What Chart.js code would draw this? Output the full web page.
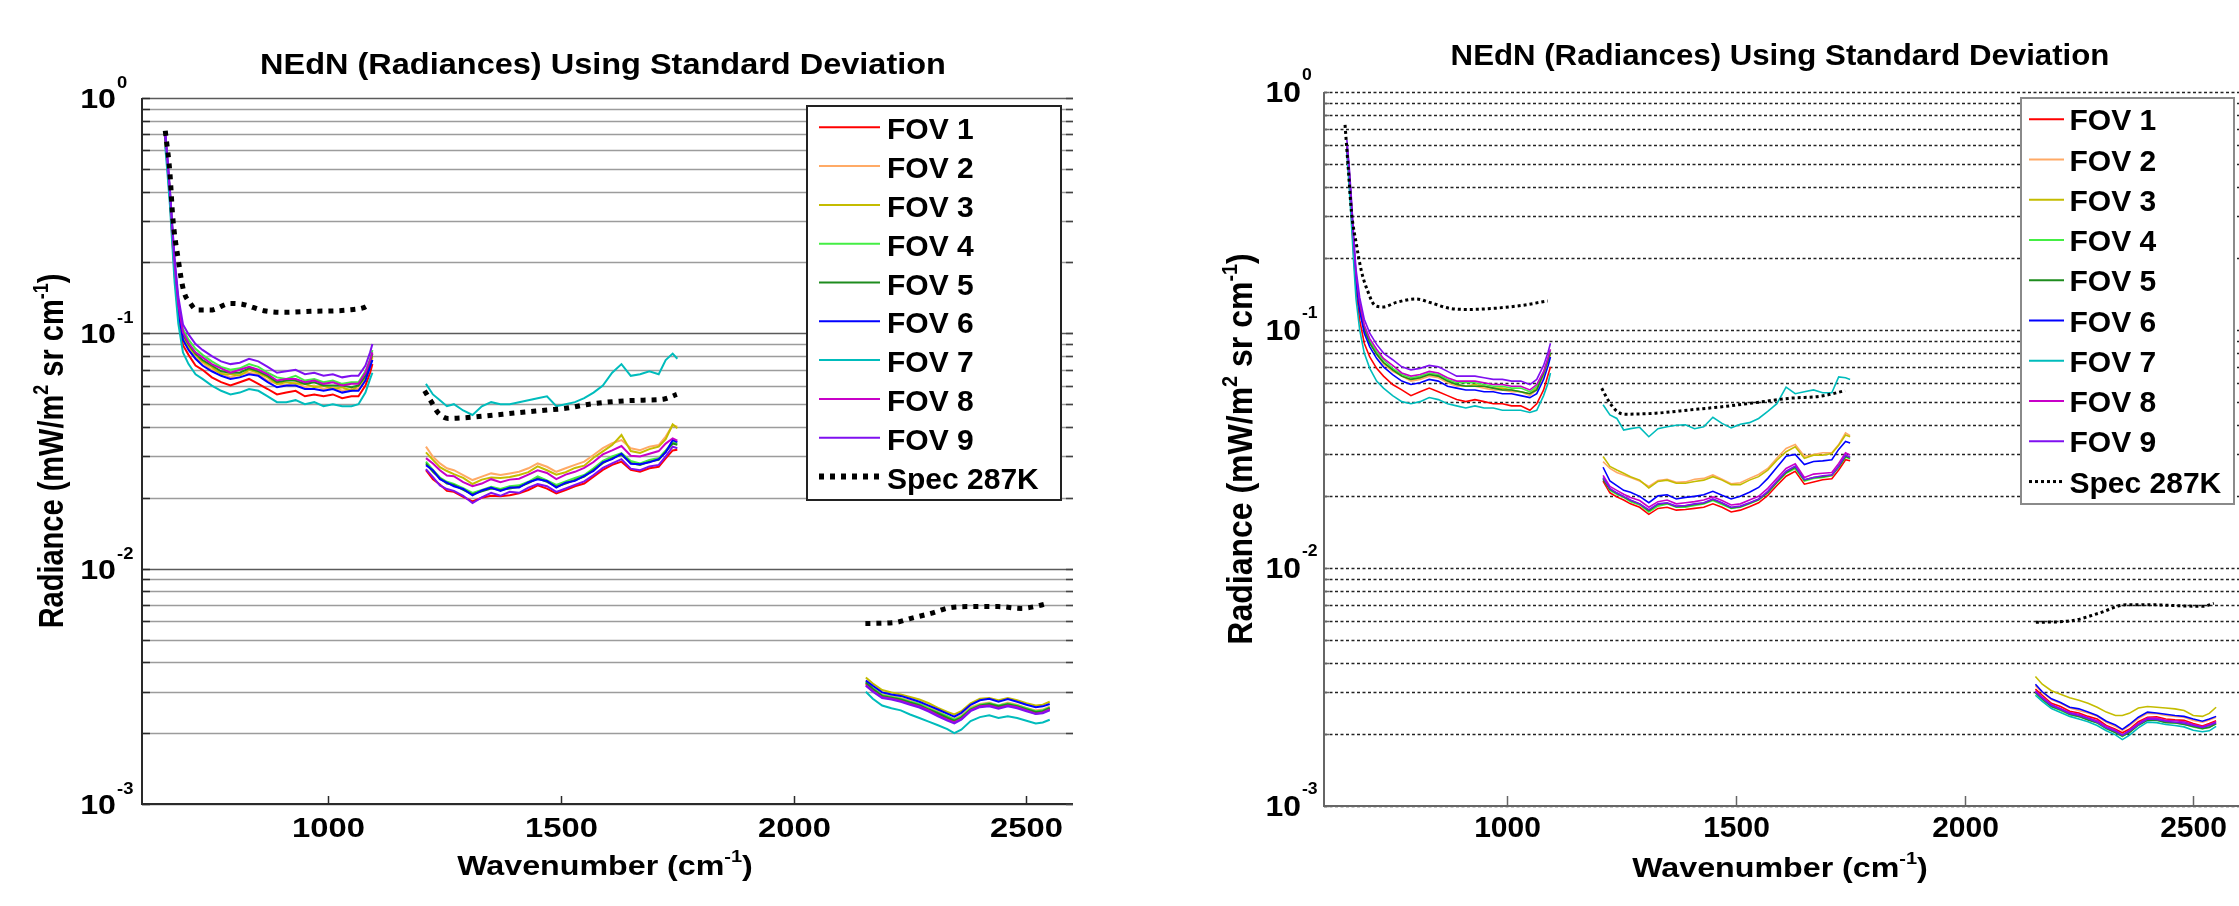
<!DOCTYPE html>
<html>
<head>
<meta charset="utf-8">
<script src="https://cdn.jsdelivr.net/npm/chart.js@4.4.1/dist/chart.umd.min.js"></script>
<style>
  html, body { margin: 0; padding: 0; background: #fff; overflow: hidden; }
  canvas { position: absolute; left: 0; top: 0; }
</style>
</head>
<body>
<canvas id="left" width="2239" height="906"></canvas>
<canvas id="right" width="2239" height="906"></canvas>
<script>
// wavenumber grids of the three bands (cm-1)
const band1 = [650, 655, 660, 665, 670, 678, 688, 700, 715, 730, 750, 770, 790, 810, 830, 850, 870, 890, 910, 930, 950, 970, 990, 1010, 1030, 1050, 1065, 1080, 1090, 1095];
const band2 = [1210, 1225, 1240, 1255, 1270, 1290, 1310, 1330, 1350, 1370, 1390, 1410, 1430, 1450, 1470, 1490, 1510, 1530, 1550, 1570, 1590, 1610, 1630, 1650, 1670, 1690, 1710, 1725, 1740, 1750];
const band3 = [2155, 2170, 2190, 2210, 2230, 2250, 2270, 2290, 2310, 2330, 2345, 2360, 2380, 2400, 2420, 2440, 2460, 2480, 2500, 2520, 2535, 2550];
const gapX = [1150, 1950];

const fovLabels = ['FOV 1', 'FOV 2', 'FOV 3', 'FOV 4', 'FOV 5', 'FOV 6', 'FOV 7', 'FOV 8', 'FOV 9'];
const specLabel = 'Spec 287K';
const fovColors = ['#ff0000', '#ffaa66', '#c4bc00', '#44ee44', '#1e8c1e', '#0000ff', '#00bcbc', '#c800c8', '#7f10f0'];

const chartTitle = 'NEdN (Radiances) Using Standard Deviation';
const yGridValues = [0.001, 0.002, 0.003, 0.004, 0.005, 0.006, 0.007, 0.008, 0.009,
  0.01, 0.02, 0.03, 0.04, 0.05, 0.06, 0.07, 0.08, 0.09,
  0.1, 0.2, 0.3, 0.4, 0.5, 0.6, 0.7, 0.8, 0.9, 1];
const yLabelValues = [1, 0.1, 0.01, 0.001];
const yLabelExps = ['0', '-1', '-2', '-3'];
const xTickValues = [1000, 1500, 2000, 2500];

// ---- left panel (values per band, null = gap between bands)
const leftFov1 = [0.66, 0.50, 0.37, 0.255, 0.178, 0.118, 0.089, 0.081, 0.073, 0.070, 0.065, 0.062, 0.060, 0.062, 0.064, 0.061, 0.058, 0.055, 0.056, 0.057, 0.054, 0.055, 0.054, 0.055, 0.053, 0.054, 0.054, 0.060, 0.068, 0.074, null,
  0.0262, 0.0240, 0.0228, 0.0214, 0.0212, 0.0202, 0.0193, 0.0200, 0.0204, 0.0203, 0.0205, 0.0209, 0.0216, 0.0226, 0.0219, 0.0209, 0.0216, 0.0224, 0.0230, 0.0246, 0.0263, 0.0276, 0.0285, 0.0263, 0.0258, 0.0267, 0.0271, 0.0294, 0.0318, 0.0320, null,
  0.00325, 0.00305, 0.00288, 0.00280, 0.00278, 0.00268, 0.00262, 0.00250, 0.00240, 0.00232, 0.00222, 0.00230, 0.00250, 0.00260, 0.00265, 0.00258, 0.00262, 0.00258, 0.00250, 0.00244, 0.00246, 0.00254];
const leftFov2 = [0.69, 0.52, 0.385, 0.268, 0.188, 0.126, 0.096, 0.087, 0.079, 0.075, 0.070, 0.068, 0.065, 0.067, 0.068, 0.067, 0.063, 0.061, 0.060, 0.062, 0.059, 0.060, 0.058, 0.059, 0.057, 0.058, 0.058, 0.064, 0.073, 0.079, null,
  0.0330, 0.0299, 0.0280, 0.0267, 0.0262, 0.0250, 0.0238, 0.0246, 0.0254, 0.0250, 0.0254, 0.0258, 0.0267, 0.0280, 0.0271, 0.0258, 0.0267, 0.0276, 0.0285, 0.0304, 0.0325, 0.0341, 0.0352, 0.0325, 0.0319, 0.0330, 0.0335, 0.0364, 0.0407, 0.0401, null,
  0.00335, 0.00312, 0.00292, 0.00288, 0.00282, 0.00275, 0.00266, 0.00258, 0.00248, 0.00236, 0.00230, 0.00238, 0.00258, 0.00266, 0.00270, 0.00262, 0.00270, 0.00264, 0.00256, 0.00250, 0.00252, 0.00260];
const leftFov3 = [0.70, 0.53, 0.39, 0.272, 0.19, 0.129, 0.098, 0.088, 0.081, 0.076, 0.072, 0.067, 0.067, 0.066, 0.070, 0.068, 0.065, 0.061, 0.062, 0.061, 0.061, 0.059, 0.060, 0.058, 0.059, 0.057, 0.060, 0.065, 0.075, 0.080, null,
  0.0312, 0.0290, 0.0270, 0.0260, 0.0252, 0.0243, 0.0229, 0.0239, 0.0244, 0.0243, 0.0245, 0.0250, 0.0257, 0.0272, 0.0262, 0.0251, 0.0257, 0.0268, 0.0274, 0.0296, 0.0315, 0.0335, 0.0370, 0.0316, 0.0310, 0.0322, 0.0330, 0.0355, 0.0410, 0.0395, null,
  0.00345, 0.00325, 0.00305, 0.00298, 0.00292, 0.00285, 0.00278, 0.00268, 0.00256, 0.00246, 0.00240, 0.00248, 0.00268, 0.00280, 0.00282, 0.00276, 0.00282, 0.00276, 0.00268, 0.00262, 0.00264, 0.00272];
const leftFov4 = [0.64, 0.53, 0.40, 0.285, 0.20, 0.137, 0.104, 0.094, 0.086, 0.081, 0.076, 0.072, 0.070, 0.071, 0.074, 0.072, 0.068, 0.065, 0.064, 0.066, 0.063, 0.064, 0.062, 0.063, 0.061, 0.062, 0.062, 0.069, 0.078, 0.085, null,
  0.0285, 0.0263, 0.0244, 0.0234, 0.0229, 0.0220, 0.0210, 0.0216, 0.0223, 0.0218, 0.0224, 0.0226, 0.0234, 0.0247, 0.0237, 0.0227, 0.0235, 0.0243, 0.0250, 0.0267, 0.0287, 0.0300, 0.0310, 0.0287, 0.0280, 0.0290, 0.0295, 0.0318, 0.0345, 0.0340, null,
  0.00330, 0.00310, 0.00290, 0.00285, 0.00280, 0.00272, 0.00266, 0.00255, 0.00245, 0.00236, 0.00228, 0.00235, 0.00254, 0.00264, 0.00268, 0.00262, 0.00267, 0.00262, 0.00255, 0.00248, 0.00250, 0.00257];
const leftFov5 = [0.68, 0.52, 0.395, 0.275, 0.193, 0.131, 0.099, 0.090, 0.082, 0.077, 0.073, 0.069, 0.068, 0.068, 0.071, 0.069, 0.066, 0.062, 0.063, 0.063, 0.061, 0.062, 0.060, 0.060, 0.060, 0.059, 0.060, 0.066, 0.076, 0.082, null,
  0.0280, 0.0258, 0.0242, 0.0230, 0.0227, 0.0216, 0.0207, 0.0213, 0.0219, 0.0216, 0.0219, 0.0223, 0.0231, 0.0242, 0.0234, 0.0223, 0.0230, 0.0238, 0.0246, 0.0263, 0.0281, 0.0295, 0.0305, 0.0281, 0.0276, 0.0285, 0.0290, 0.0314, 0.0340, 0.0336, null,
  0.00328, 0.00308, 0.00288, 0.00283, 0.00278, 0.00270, 0.00263, 0.00252, 0.00243, 0.00233, 0.00226, 0.00233, 0.00252, 0.00262, 0.00266, 0.00260, 0.00265, 0.00260, 0.00253, 0.00246, 0.00248, 0.00256];
const leftFov6 = [0.69, 0.51, 0.38, 0.262, 0.184, 0.124, 0.094, 0.085, 0.078, 0.073, 0.069, 0.066, 0.064, 0.065, 0.067, 0.066, 0.062, 0.059, 0.060, 0.060, 0.058, 0.058, 0.057, 0.058, 0.056, 0.057, 0.057, 0.063, 0.072, 0.077, null,
  0.0275, 0.0262, 0.0240, 0.0232, 0.0224, 0.0218, 0.0205, 0.0215, 0.0221, 0.0214, 0.0221, 0.0221, 0.0233, 0.0240, 0.0236, 0.0221, 0.0232, 0.0236, 0.0248, 0.0260, 0.0283, 0.0292, 0.0308, 0.0279, 0.0278, 0.0283, 0.0292, 0.0312, 0.0352, 0.0345, null,
  0.00335, 0.00318, 0.00298, 0.00292, 0.00288, 0.00280, 0.00272, 0.00262, 0.00252, 0.00242, 0.00235, 0.00244, 0.00264, 0.00276, 0.00280, 0.00272, 0.00279, 0.00272, 0.00264, 0.00258, 0.00260, 0.00266];
const leftFov7 = [0.62, 0.47, 0.35, 0.24, 0.165, 0.110, 0.083, 0.074, 0.067, 0.064, 0.060, 0.057, 0.055, 0.056, 0.058, 0.057, 0.054, 0.051, 0.051, 0.052, 0.050, 0.051, 0.049, 0.050, 0.049, 0.049, 0.050, 0.056, 0.064, 0.068, null,
  0.061, 0.055, 0.052, 0.049, 0.050, 0.047, 0.045, 0.049, 0.051, 0.050, 0.050, 0.051, 0.052, 0.053, 0.054, 0.049, 0.050, 0.051, 0.053, 0.056, 0.060, 0.068, 0.074, 0.066, 0.067, 0.069, 0.067, 0.077, 0.082, 0.078, null,
  0.00300, 0.00280, 0.00262, 0.00255, 0.00250, 0.00240, 0.00232, 0.00224, 0.00216, 0.00208, 0.00200, 0.00207, 0.00225, 0.00234, 0.00238, 0.00232, 0.00236, 0.00232, 0.00226, 0.00220, 0.00222, 0.00228];
const leftFov8 = [0.70, 0.53, 0.40, 0.28, 0.197, 0.133, 0.101, 0.091, 0.083, 0.079, 0.074, 0.071, 0.068, 0.070, 0.072, 0.070, 0.067, 0.063, 0.064, 0.064, 0.062, 0.063, 0.061, 0.062, 0.060, 0.061, 0.061, 0.068, 0.077, 0.083, null,
  0.0295, 0.0280, 0.0262, 0.0249, 0.0247, 0.0233, 0.0224, 0.0230, 0.0240, 0.0233, 0.0239, 0.0241, 0.0251, 0.0262, 0.0255, 0.0240, 0.0251, 0.0258, 0.0268, 0.0284, 0.0306, 0.0318, 0.0332, 0.0302, 0.0300, 0.0308, 0.0316, 0.0340, 0.0358, 0.0350, null,
  0.00320, 0.00302, 0.00284, 0.00280, 0.00274, 0.00266, 0.00260, 0.00250, 0.00238, 0.00228, 0.00222, 0.00230, 0.00250, 0.00260, 0.00262, 0.00256, 0.00262, 0.00258, 0.00250, 0.00242, 0.00245, 0.00252];
const leftFov9 = [0.72, 0.55, 0.41, 0.29, 0.21, 0.143, 0.109, 0.099, 0.090, 0.085, 0.080, 0.076, 0.074, 0.075, 0.078, 0.076, 0.072, 0.068, 0.069, 0.070, 0.067, 0.068, 0.066, 0.067, 0.065, 0.066, 0.066, 0.073, 0.083, 0.090, null,
  0.0265, 0.0245, 0.0226, 0.0218, 0.0214, 0.0204, 0.0190, 0.0201, 0.0210, 0.0204, 0.0212, 0.0210, 0.0221, 0.0229, 0.0224, 0.0212, 0.0219, 0.0227, 0.0235, 0.0250, 0.0268, 0.0280, 0.0292, 0.0266, 0.0262, 0.0272, 0.0276, 0.0300, 0.0330, 0.0325, null,
  0.00318, 0.00300, 0.00282, 0.00278, 0.00272, 0.00264, 0.00257, 0.00247, 0.00236, 0.00226, 0.00220, 0.00228, 0.00248, 0.00258, 0.00260, 0.00254, 0.00260, 0.00255, 0.00248, 0.00241, 0.00243, 0.00250];
const leftSpecX = [650, 660, 666, 678, 689, 704, 718, 747, 790, 815, 862, 905, 963, 1042, 1078, 1092, 1150,
  1207, 1222, 1236, 1258, 1308, 1359, 1409, 1460, 1510, 1561, 1626, 1677, 1720, 1749, 1950,
  2154, 2216, 2252, 2295, 2338, 2381, 2439, 2489, 2518, 2540];
const leftSpecY = [0.726, 0.48, 0.313, 0.205, 0.153, 0.134, 0.1256, 0.1256, 0.134, 0.133, 0.1248, 0.1228, 0.124, 0.1256, 0.129, 0.134, null,
  0.057, 0.051, 0.046, 0.0435, 0.044, 0.045, 0.046, 0.047, 0.048, 0.050, 0.0515, 0.052, 0.0525, 0.055, null,
  0.00585, 0.0059, 0.00615, 0.00646, 0.00684, 0.0069, 0.0069, 0.00678, 0.0069, 0.00707];

// ---- right panel
const rightFov1 = [0.58, 0.43, 0.30, 0.205, 0.148, 0.110, 0.088, 0.077, 0.069, 0.064, 0.059, 0.056, 0.053, 0.055, 0.057, 0.055, 0.053, 0.051, 0.050, 0.051, 0.050, 0.049, 0.049, 0.048, 0.048, 0.046, 0.049, 0.056, 0.065, 0.070, null,
  0.0232, 0.0207, 0.0199, 0.0193, 0.0186, 0.0180, 0.0168, 0.0178, 0.0180, 0.0175, 0.0176, 0.0178, 0.0180, 0.0186, 0.0180, 0.0172, 0.0175, 0.0181, 0.0188, 0.0202, 0.0222, 0.0243, 0.0255, 0.0225, 0.0230, 0.0235, 0.0237, 0.0258, 0.0285, 0.0282, null,
  0.00310, 0.00292, 0.00270, 0.00262, 0.00250, 0.00246, 0.00238, 0.00232, 0.00218, 0.00210, 0.00203, 0.00210, 0.00226, 0.00236, 0.00237, 0.00232, 0.00230, 0.00229, 0.00222, 0.00217, 0.00222, 0.00228];
const rightFov2 = [0.60, 0.46, 0.325, 0.225, 0.163, 0.124, 0.100, 0.088, 0.079, 0.072, 0.067, 0.064, 0.061, 0.062, 0.064, 0.063, 0.060, 0.058, 0.058, 0.058, 0.057, 0.056, 0.056, 0.055, 0.055, 0.053, 0.056, 0.064, 0.073, 0.079, null,
  0.0280, 0.0262, 0.0252, 0.0246, 0.0240, 0.0232, 0.0220, 0.0233, 0.0236, 0.0229, 0.0230, 0.0236, 0.0238, 0.0246, 0.0236, 0.0226, 0.0228, 0.0238, 0.0247, 0.0262, 0.0290, 0.0318, 0.0330, 0.0295, 0.0300, 0.0305, 0.0305, 0.0330, 0.0370, 0.0360, null,
  0.00320, 0.00300, 0.00280, 0.00270, 0.00258, 0.00252, 0.00246, 0.00238, 0.00225, 0.00216, 0.00208, 0.00217, 0.00233, 0.00245, 0.00244, 0.00240, 0.00238, 0.00236, 0.00229, 0.00225, 0.00230, 0.00236];
const rightFov3 = [0.61, 0.46, 0.33, 0.226, 0.165, 0.126, 0.101, 0.089, 0.080, 0.073, 0.068, 0.064, 0.062, 0.063, 0.065, 0.064, 0.061, 0.059, 0.058, 0.059, 0.058, 0.057, 0.057, 0.056, 0.055, 0.054, 0.057, 0.065, 0.074, 0.080, null,
  0.0294, 0.0267, 0.0258, 0.0250, 0.0242, 0.0234, 0.0217, 0.0231, 0.0234, 0.0227, 0.0227, 0.0231, 0.0234, 0.0242, 0.0234, 0.0224, 0.0224, 0.0234, 0.0242, 0.0258, 0.0284, 0.0308, 0.0323, 0.0289, 0.0298, 0.0298, 0.0303, 0.0328, 0.0362, 0.0356, null,
  0.00350, 0.00325, 0.00305, 0.00295, 0.00285, 0.00278, 0.00270, 0.00260, 0.00248, 0.00240, 0.00240, 0.00245, 0.00258, 0.00262, 0.00260, 0.00258, 0.00256, 0.00252, 0.00240, 0.00238, 0.00245, 0.00260];
const rightFov4 = [0.60, 0.47, 0.335, 0.23, 0.168, 0.128, 0.103, 0.090, 0.081, 0.075, 0.069, 0.065, 0.063, 0.064, 0.066, 0.065, 0.062, 0.060, 0.060, 0.060, 0.059, 0.058, 0.058, 0.057, 0.057, 0.055, 0.058, 0.066, 0.076, 0.082, null,
  0.0238, 0.0212, 0.0204, 0.0198, 0.0190, 0.0184, 0.0172, 0.0182, 0.0186, 0.0180, 0.0180, 0.0183, 0.0186, 0.0192, 0.0185, 0.0178, 0.0180, 0.0186, 0.0193, 0.0207, 0.0228, 0.0250, 0.0262, 0.0232, 0.0238, 0.0240, 0.0244, 0.0265, 0.0292, 0.0288, null,
  0.00298, 0.00280, 0.00262, 0.00252, 0.00242, 0.00237, 0.00231, 0.00223, 0.00211, 0.00204, 0.00196, 0.00204, 0.00218, 0.00230, 0.00229, 0.00225, 0.00223, 0.00221, 0.00215, 0.00211, 0.00215, 0.00221];
const rightFov5 = [0.59, 0.46, 0.33, 0.227, 0.165, 0.125, 0.101, 0.088, 0.079, 0.073, 0.068, 0.064, 0.062, 0.063, 0.065, 0.064, 0.061, 0.059, 0.058, 0.058, 0.058, 0.057, 0.056, 0.056, 0.055, 0.054, 0.056, 0.066, 0.075, 0.080, null,
  0.0236, 0.0214, 0.0206, 0.0199, 0.0192, 0.0186, 0.0174, 0.0185, 0.0187, 0.0181, 0.0182, 0.0185, 0.0187, 0.0194, 0.0187, 0.0179, 0.0181, 0.0187, 0.0194, 0.0208, 0.0230, 0.0252, 0.0265, 0.0234, 0.0240, 0.0242, 0.0246, 0.0266, 0.0294, 0.0290, null,
  0.00300, 0.00282, 0.00262, 0.00254, 0.00243, 0.00238, 0.00230, 0.00224, 0.00212, 0.00203, 0.00197, 0.00203, 0.00219, 0.00229, 0.00230, 0.00224, 0.00224, 0.00220, 0.00216, 0.00212, 0.00214, 0.00222];
const rightFov6 = [0.58, 0.44, 0.31, 0.215, 0.158, 0.120, 0.097, 0.085, 0.076, 0.070, 0.065, 0.061, 0.059, 0.060, 0.062, 0.061, 0.058, 0.057, 0.056, 0.056, 0.055, 0.055, 0.054, 0.054, 0.053, 0.052, 0.054, 0.062, 0.071, 0.077, null,
  0.0265, 0.0232, 0.0222, 0.0212, 0.0208, 0.0200, 0.0188, 0.0201, 0.0203, 0.0195, 0.0198, 0.0200, 0.0203, 0.0210, 0.0202, 0.0195, 0.0200, 0.0208, 0.0218, 0.0238, 0.0265, 0.0295, 0.0300, 0.0272, 0.0280, 0.0282, 0.0285, 0.0315, 0.0340, 0.0335, null,
  0.00325, 0.00302, 0.00282, 0.00272, 0.00260, 0.00256, 0.00248, 0.00240, 0.00227, 0.00219, 0.00210, 0.00220, 0.00236, 0.00248, 0.00246, 0.00243, 0.00240, 0.00238, 0.00232, 0.00227, 0.00232, 0.00238];
const rightFov7 = [0.55, 0.40, 0.28, 0.19, 0.135, 0.100, 0.080, 0.069, 0.061, 0.057, 0.053, 0.050, 0.049, 0.050, 0.052, 0.051, 0.049, 0.048, 0.047, 0.048, 0.047, 0.047, 0.046, 0.046, 0.046, 0.045, 0.046, 0.053, 0.060, 0.066, null,
  0.0485, 0.0440, 0.0425, 0.0380, 0.0385, 0.0390, 0.0356, 0.0385, 0.0392, 0.0398, 0.0400, 0.0385, 0.0392, 0.0430, 0.0405, 0.0388, 0.0402, 0.0408, 0.0425, 0.0455, 0.0490, 0.0575, 0.0540, 0.0550, 0.0560, 0.0545, 0.0545, 0.0635, 0.0630, 0.0620, null,
  0.00292, 0.00275, 0.00257, 0.00247, 0.00238, 0.00232, 0.00226, 0.00218, 0.00207, 0.00199, 0.00190, 0.00198, 0.00213, 0.00225, 0.00224, 0.00220, 0.00218, 0.00215, 0.00208, 0.00205, 0.00207, 0.00216];
const rightFov8 = [0.61, 0.47, 0.34, 0.235, 0.171, 0.130, 0.105, 0.092, 0.083, 0.076, 0.071, 0.066, 0.064, 0.065, 0.067, 0.066, 0.063, 0.061, 0.061, 0.061, 0.060, 0.059, 0.059, 0.058, 0.058, 0.056, 0.059, 0.067, 0.077, 0.083, null,
  0.0245, 0.0220, 0.0212, 0.0204, 0.0198, 0.0192, 0.0180, 0.0190, 0.0193, 0.0186, 0.0188, 0.0190, 0.0193, 0.0199, 0.0192, 0.0184, 0.0186, 0.0193, 0.0200, 0.0216, 0.0238, 0.0262, 0.0274, 0.0240, 0.0248, 0.0250, 0.0252, 0.0275, 0.0305, 0.0298, null,
  0.00305, 0.00287, 0.00267, 0.00257, 0.00247, 0.00243, 0.00235, 0.00228, 0.00216, 0.00208, 0.00199, 0.00208, 0.00223, 0.00234, 0.00234, 0.00229, 0.00228, 0.00226, 0.00220, 0.00215, 0.00220, 0.00226];
const rightFov9 = [0.63, 0.49, 0.355, 0.245, 0.18, 0.137, 0.111, 0.097, 0.087, 0.080, 0.075, 0.070, 0.068, 0.069, 0.071, 0.070, 0.067, 0.064, 0.064, 0.064, 0.063, 0.062, 0.062, 0.061, 0.061, 0.059, 0.062, 0.071, 0.081, 0.088, null,
  0.0240, 0.0216, 0.0207, 0.0200, 0.0193, 0.0186, 0.0176, 0.0186, 0.0188, 0.0182, 0.0183, 0.0186, 0.0188, 0.0195, 0.0188, 0.0180, 0.0182, 0.0188, 0.0195, 0.0210, 0.0232, 0.0255, 0.0268, 0.0235, 0.0240, 0.0244, 0.0246, 0.0268, 0.0298, 0.0292, null,
  0.00302, 0.00284, 0.00265, 0.00255, 0.00245, 0.00240, 0.00233, 0.00225, 0.00213, 0.00206, 0.00198, 0.00206, 0.00220, 0.00232, 0.00231, 0.00227, 0.00225, 0.00223, 0.00218, 0.00214, 0.00218, 0.00224];
const rightSpecX = [646, 653, 660, 671, 682, 696, 711, 729, 758, 802, 831, 875, 918, 976, 1034, 1071, 1089, 1150,
  1207, 1223, 1241, 1259, 1325, 1397, 1470, 1543, 1615, 1688, 1739, 1950,
  2156, 2233, 2293, 2353, 2420, 2460, 2521, 2545];
const rightSpecY = [0.727, 0.478, 0.314, 0.228, 0.176, 0.145, 0.127, 0.125, 0.1306, 0.135, 0.1306, 0.1233, 0.122, 0.1235, 0.127, 0.1306, 0.1324, null,
  0.0569, 0.050, 0.0454, 0.0443, 0.0447, 0.0461, 0.0476, 0.0495, 0.0516, 0.0528, 0.0556, null,
  0.00591, 0.0060, 0.00645, 0.0070, 0.0070, 0.00695, 0.0069, 0.0071];

const FONT = '"Liberation Sans", Arial, Helvetica, sans-serif';
const fovX = [...band1, gapX[0], ...band2, gapX[1], ...band3];

function toPoints(xs, ys) {
    return xs.map((x, i) => ({ x: x, y: ys[i] }));
}

// draw text made of normal and superscript parts, optionally stretched / rotated
function richText(ctx, parts, x, y, size, opts = {}) {
    const sx = opts.sx || 1;
    const align = opts.align || 'left';
    const supSize = size * 0.62;
    ctx.save();
    ctx.translate(x, y);
    ctx.scale(sx, 1);
    if (opts.rotate) ctx.rotate(opts.rotate);
    ctx.fillStyle = '#000';
    ctx.textBaseline = 'alphabetic';
    ctx.textAlign = 'left';
    const widths = parts.map(p => {
        ctx.font = `bold ${p.sup ? supSize : size}px ${FONT}`;
        return ctx.measureText(p.t).width;
    });
    const total = widths.reduce((a, b) => a + b, 0);
    let cx = align === 'center' ? -total / 2 : align === 'right' ? -total : 0;
    parts.forEach((p, i) => {
        ctx.font = `bold ${p.sup ? supSize : size}px ${FONT}`;
        ctx.fillText(p.t, cx, p.sup ? -size * 0.45 : 0);
        cx += widths[i];
    });
    ctx.restore();
}

function line(ctx, x1, y1, x2, y2, color, width, dash) {
    ctx.save();
    ctx.strokeStyle = color;
    ctx.lineWidth = width;
    ctx.setLineDash(dash || []);
    ctx.beginPath();
    ctx.moveTo(x1, y1);
    ctx.lineTo(x2, y2);
    ctx.stroke();
    ctx.restore();
}

function makeDecor(p) {
    return {
        id: 'decor',
        beforeDatasetsDraw(chart) {
            const ctx = chart.ctx;
            const a = chart.chartArea;
            const ys = chart.scales.y;
            yGridValues.forEach(v => {
                const y = Math.round(ys.getPixelForValue(v)) + 0.5;
                const major = Math.abs(Math.log10(v) - Math.round(Math.log10(v))) < 1e-6;
                if (p.dottedGrid) {
                    line(ctx, a.left, y, a.right, y, '#222', 1.3, [3, 2.5]);
                } else {
                    line(ctx, a.left, y, a.right, y, major ? '#5a5a5a' : '#9c9c9c', 1.6);
                }
            });
        },
        afterDatasetsDraw(chart) {
            const ctx = chart.ctx;
            const a = chart.chartArea;
            const xs = chart.scales.x;
            const ys = chart.scales.y;

            // axes frame and tick marks
            line(ctx, a.left, a.top, a.left, a.bottom + 1, p.axisColor, 2);
            line(ctx, a.left - 1, a.bottom, a.right, a.bottom, p.axisColor, 2.2);
            yGridValues.forEach(v => {
                const y = Math.round(ys.getPixelForValue(v)) + 0.5;
                line(ctx, a.left, y, a.left + p.yTick, y, p.axisColor, 1.5);
                if (p.rightTicks) line(ctx, a.right - 7, y, a.right, y, '#444', 1.5);
            });
            xTickValues.forEach(v => {
                const x = Math.round(xs.getPixelForValue(v)) + 0.5;
                line(ctx, x, a.bottom, x, a.bottom - p.xTick, p.axisColor, 1.5);
                richText(ctx, [{ t: String(v) }], x, p.xLabelBase, p.xLabelSize, { sx: p.xLabelSx, align: 'center' });
            });

            // y tick labels 10^n
            yLabelValues.forEach((v, i) => {
                const y = ys.getPixelForValue(v);
                richText(ctx, [{ t: '10' }], p.yLabelRight, y + p.yBaseOff, p.yLabelSize, { sx: p.yLabelSx, align: 'right' });
                richText(ctx, [{ t: yLabelExps[i] }], p.yLabelRight + 1, y + p.yExpOff, p.yExpSize, { sx: p.yLabelSx });
            });

            // titles
            richText(ctx, [{ t: chartTitle }], p.titleX, p.titleBase, p.titleSize, { sx: p.titleSx, align: 'center' });
            richText(ctx, [{ t: 'Wavenumber (cm' }, { t: '-1', sup: true }, { t: ')' }],
                p.xTitleX, p.xTitleBase, p.xTitleSize, { sx: p.xTitleSx, align: 'center' });
            richText(ctx, [{ t: 'Radiance (mW/m' }, { t: '2', sup: true }, { t: ' sr cm' }, { t: '-1', sup: true }, { t: ')' }],
                p.yTitleBaseX, p.yTitleY, p.yTitleSize, { sx: p.yTitleSx, align: 'center', rotate: -Math.PI / 2 });

            // legend
            const L = p.legend;
            ctx.save();
            ctx.fillStyle = '#fff';
            ctx.fillRect(L.x, L.y, L.w, L.h);
            ctx.strokeStyle = L.border;
            ctx.lineWidth = 2;
            ctx.strokeRect(L.x, L.y, L.w, L.h);
            ctx.restore();
            const entries = chart.data.datasets.slice().sort((d1, d2) => d1.legendIndex - d2.legendIndex);
            entries.forEach((ds, i) => {
                const y = L.firstY + i * L.step;
                line(ctx, L.lineX1, y, L.lineX2, y, ds.borderColor, ds.legendWidth, ds.borderDash);
                richText(ctx, [{ t: ds.label }], L.textX, y + L.textOff, L.size, { sx: L.sx });
            });
        }
    };
}

function buildDatasets(fovs, specX, specY, st) {
    const sets = fovs.map((vals, i) => ({
        label: fovLabels[i],
        data: toPoints(fovX, vals),
        borderColor: fovColors[i],
        borderWidth: st.fovWidth,
        legendWidth: st.legendFovWidth,
        legendIndex: i,
        order: 9 - i,
        pointRadius: 0,
        tension: 0,
        spanGaps: false
    }));
    sets.push({
        label: specLabel,
        data: toPoints(specX, specY),
        borderColor: '#000',
        borderWidth: st.specWidth,
        borderDash: st.specDash,
        legendWidth: st.legendSpecWidth,
        legendIndex: 9,
        order: -1,
        pointRadius: 0,
        cubicInterpolationMode: 'monotone',
        spanGaps: false
    });
    return sets;
}

function makeChart(id, datasets, padding, decor) {
    return new Chart(document.getElementById(id), {
        type: 'line',
        data: { datasets: datasets },
        options: {
            responsive: false,
            animation: false,
            events: [],
            layout: { padding: padding },
            plugins: { legend: { display: false }, title: { display: false }, tooltip: { enabled: false } },
            scales: {
                x: { type: 'linear', min: 600, max: 2600, display: false },
                y: { type: 'logarithmic', min: 0.001, max: 1, display: false }
            }
        },
        plugins: [makeDecor(decor)]
    });
}

makeChart('left',
    buildDatasets([leftFov1, leftFov2, leftFov3, leftFov4, leftFov5, leftFov6, leftFov7, leftFov8, leftFov9], leftSpecX, leftSpecY,
        { fovWidth: 2, legendFovWidth: 2, specWidth: 5, specDash: [5, 6], legendSpecWidth: 6 }),
    { left: 142, right: 2239 - 1073, top: 98, bottom: 906 - 804 },
    {
        dottedGrid: false, axisColor: '#2a2a2a', yTick: 8, xTick: 8, rightTicks: true,
        xLabelBase: 837, xLabelSize: 28, xLabelSx: 1.17,
        yLabelRight: 116, yLabelSize: 28, yLabelSx: 1.15, yBaseOff: 10, yExpOff: -10, yExpSize: 16,
        titleX: 603, titleBase: 74, titleSize: 29, titleSx: 1.12,
        xTitleX: 605, xTitleBase: 875, xTitleSize: 28, xTitleSx: 1.15,
        yTitleBaseX: 63, yTitleY: 451, yTitleSize: 29, yTitleSx: 1.18,
        legend: { x: 807, y: 106, w: 254, h: 394, border: '#222', firstY: 127.3, step: 38.8,
            lineX1: 819, lineX2: 880, textX: 887, textOff: 12, size: 30, sx: 1.0 }
    });

makeChart('right',
    buildDatasets([rightFov1, rightFov2, rightFov3, rightFov4, rightFov5, rightFov6, rightFov7, rightFov8, rightFov9], rightSpecX, rightSpecY,
        { fovWidth: 1.6, legendFovWidth: 2, specWidth: 3, specDash: [3, 3], legendSpecWidth: 3 }),
    { left: 1324, right: 0, top: 92, bottom: 906 - 806 },
    {
        dottedGrid: true, axisColor: '#666', yTick: 5, xTick: 10, rightTicks: false,
        xLabelBase: 837, xLabelSize: 30, xLabelSx: 1.0,
        yLabelRight: 1301, yLabelSize: 29, yLabelSx: 1.1, yBaseOff: 10, yExpOff: -12, yExpSize: 16,
        titleX: 1780, titleBase: 65, titleSize: 30, titleSx: 1.04,
        xTitleX: 1780, xTitleBase: 877, xTitleSize: 28, xTitleSx: 1.15,
        yTitleBaseX: 1252, yTitleY: 449, yTitleSize: 32, yTitleSx: 1.07,
        legend: { x: 2021, y: 98, w: 213, h: 406, border: '#8a8a8a', firstY: 119.3, step: 40.25,
            lineX1: 2029, lineX2: 2064, textX: 2069.5, textOff: 11, size: 30, sx: 1.0 }
    });
</script>
</body>
</html>
